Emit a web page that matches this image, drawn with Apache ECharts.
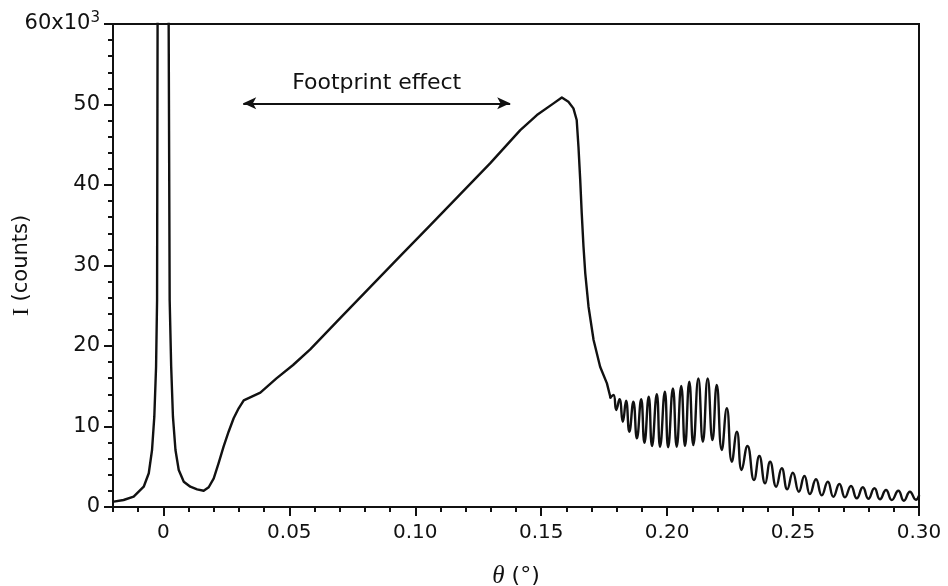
<!DOCTYPE html>
<html>
<head>
<meta charset="utf-8">
<script src="https://cdn.jsdelivr.net/npm/echarts@6.0.0/dist/echarts.min.js"></script>
<style>
  html, body { margin: 0; padding: 0; background: #fff; }
  #chart { width: 948px; height: 586px; }
</style>
</head>
<body>
<div id="chart"></div>
<script>
// theta (deg) and intensity (counts)
const thetaDeg = [
  -0.0197, -0.0158, -0.0118, -0.0078, -0.0058, -0.0045, -0.0036, -0.0029, -0.0025, -0.0023,
  0.0000,
  0.0021, 0.0025, 0.0031, 0.0038, 0.0048, 0.0061, 0.0081, 0.0107, 0.0134, 0.0160,
  0.0180, 0.0200, 0.0219, 0.0239, 0.0259, 0.0279, 0.0299, 0.0319, 0.0385, 0.0449,
  0.0515, 0.0583, 0.0702, 0.0821, 0.0940, 0.1060, 0.1179, 0.1298, 0.1417, 0.1483,
  0.1549, 0.1582, 0.1608, 0.1628, 0.1641, 0.1648, 0.1655, 0.1661, 0.1668, 0.1675,
  0.1688, 0.1708, 0.1734, 0.1761, 0.1775,
  0.1787, 0.1798, 0.1811, 0.1824, 0.1837, 0.1850, 0.1866, 0.1880, 0.1897, 0.1910,
  0.1927, 0.1940, 0.1959, 0.1972, 0.1991, 0.2004, 0.2023, 0.2038, 0.2056, 0.2071,
  0.2088, 0.2104, 0.2124, 0.2142, 0.2161, 0.2180, 0.2197, 0.2217, 0.2237, 0.2257,
  0.2277, 0.2296, 0.2319, 0.2345, 0.2366, 0.2389, 0.2409, 0.2433, 0.2455, 0.2477,
  0.2499, 0.2523, 0.2545, 0.2567, 0.2591, 0.2614, 0.2638, 0.2660, 0.2684, 0.2706,
  0.2730, 0.2753, 0.2777, 0.2799, 0.2823, 0.2845, 0.2869, 0.2892, 0.2918, 0.2940,
  0.2964, 0.2988, 0.3000
];
const counts = [
  660, 870, 1280, 2520, 4190, 7080, 11220, 17430, 25710, 60000,
  150000,
  60000, 25710, 17430, 11220, 7080, 4600, 3140, 2520, 2190, 2020,
  2450, 3560, 5430, 7490, 9350, 11020, 12260, 13250, 14200, 15980,
  17640, 19590, 23470, 27320, 31170, 35020, 38870, 42720, 46820, 48690,
  50140, 50880, 50340, 49520, 48070, 44750, 40610, 36480, 32330, 29030,
  24880, 20740, 17430, 15360, 13600,
  13910, 12050, 13380, 10590, 13200, 9350, 13080, 8530, 13380, 7990,
  13700, 7580, 14000, 7490, 14320, 7410, 14740, 7490, 15030, 7580,
  15560, 7700, 15980, 8110, 15980, 8320, 15150, 7080, 12260, 5630,
  9350, 4600, 7580, 3350, 6330, 2940, 5630, 2520, 4810, 2200,
  4260, 1900, 3850, 1610, 3440, 1450, 3140, 1280, 2860, 1200,
  2610, 1080, 2450, 1030, 2320, 960, 2110, 870, 2020, 780,
  1900, 900, 1400
];
// fringes start here (index of theta = 0.1775)
const fringeStart = 55;

const xTickValues = [0, 0.05, 0.10, 0.15, 0.20, 0.25, 0.30];
const yTickLabels = ['0', '10', '20', '30', '40', '50', '60x10'];

// footprint arrow
const footprintTheta = [0.0317, 0.1377];
const footprintLevel = 50150;
const footprintText = 'Footprint effect';

const ink = '#111';
const font = 'DejaVu Sans';

const chart = echarts.init(document.getElementById('chart'));

const scan = thetaDeg.map((t, i) => [t, counts[i]]);
const plateau = scan.slice(0, fringeStart + 1);
const fringes = scan.slice(fringeStart);

chart.setOption({
  animation: false,
  backgroundColor: '#fff',
  grid: {
    left: 113, right: 29, top: 24, bottom: 79,
    containLabel: false,
    outerBoundsMode: 'none',
    show: true, borderColor: ink, borderWidth: 2
  },
  xAxis: [
    {
      type: 'value',
      min: -0.02, max: 0.3, interval: 0.01,
      position: 'bottom',
      axisLine: { show: true, onZero: false, lineStyle: { color: ink, width: 2 } },
      axisTick: { show: true, length: 5, lineStyle: { color: ink, width: 2 } },
      splitLine: { show: false },
      axisLabel: {
        customValues: xTickValues,
        formatter: (v) => (v === 0 ? '0' : v.toFixed(2)),
        fontFamily: font, fontSize: 20, color: ink, margin: 16
      },
      name: '{t|θ} (°)',
      nameLocation: 'middle',
      nameGap: 57,
      nameMoveOverlap: false,
      nameTextStyle: {
        fontFamily: font, fontSize: 22, color: ink,
        rich: { t: { fontFamily: 'Liberation Serif', fontStyle: 'italic', fontSize: 25, color: ink } }
      }
    },
    {
      type: 'value',
      min: -0.02, max: 0.3,
      position: 'bottom',
      axisLine: { show: false, onZero: false },
      axisTick: { show: true, customValues: xTickValues, length: 9, lineStyle: { color: ink, width: 2 } },
      axisLabel: { show: false },
      splitLine: { show: false }
    }
  ],
  yAxis: {
    type: 'value',
    min: 0, max: 60000, interval: 10000,
    position: 'left',
    axisLine: { show: true, onZero: false, lineStyle: { color: ink, width: 2 } },
    axisTick: { show: true, length: 9, lineStyle: { color: ink, width: 2 } },
    minorTick: { show: true, splitNumber: 5, length: 5, lineStyle: { color: ink, width: 2 } },
    splitLine: { show: false },
    minorSplitLine: { show: false },
    axisLabel: {
      formatter: (v) => {
        const lab = yTickLabels[Math.round(v / 10000)];
        return v === 60000 ? '{a|' + lab + '}{s|3}' : lab;
      },
      fontFamily: font, fontSize: 21, color: ink, margin: 13,
      rich: {
        a: { fontFamily: font, fontSize: 21, color: ink },
        s: { fontFamily: font, fontSize: 15, color: ink, verticalAlign: 'bottom', padding: [0, 0, 12, 0] }
      }
    },
    name: '{i|I} (counts)',
    nameLocation: 'middle',
    nameRotate: 90,
    nameGap: 79,
    nameMoveOverlap: false,
    nameTextStyle: {
      fontFamily: font, fontSize: 21, color: ink,
      rich: { i: { fontFamily: 'Liberation Serif', fontSize: 24, color: ink } }
    }
  },
  series: [
    {
      type: 'line',
      data: plateau,
      xAxisIndex: 0,
      showSymbol: false,
      symbol: 'none',
      clip: true,
      lineStyle: { color: ink, width: 2.4, join: 'round', cap: 'round' },
      markLine: {
        silent: true,
        symbol: ['arrow', 'arrow'],
        symbolSize: [9, 13],
        lineStyle: { color: ink, width: 2, type: 'solid' },
        label: {
          show: true,
          position: 'insideMiddleTop',
          distance: 9,
          formatter: footprintText,
          fontFamily: font, fontSize: 22, color: ink
        },
        data: [[
          { coord: [footprintTheta[0], footprintLevel] },
          { coord: [footprintTheta[1], footprintLevel] }
        ]]
      }
    },
    {
      type: 'line',
      data: fringes,
      xAxisIndex: 0,
      showSymbol: false,
      symbol: 'none',
      smooth: 0.5,
      clip: true,
      lineStyle: { color: ink, width: 2.4, join: 'round', cap: 'round' }
    }
  ]
});
</script>
</body>
</html>
